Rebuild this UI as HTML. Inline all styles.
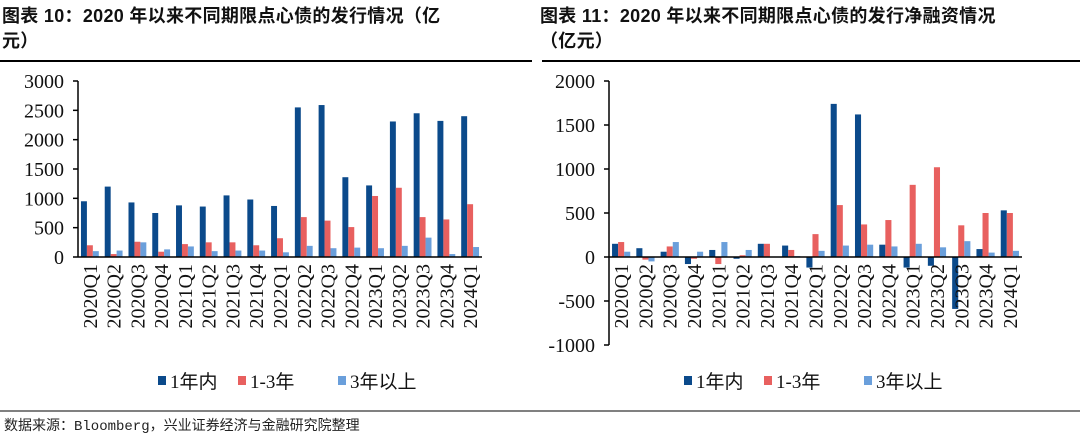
<!DOCTYPE html>
<html><head><meta charset="utf-8">
<style>
body{margin:0;width:1080px;height:435px;background:#fff;overflow:hidden;font-family:"Liberation Serif","Noto Serif CJK SC",serif;}
.t{position:absolute;font-family:"Liberation Sans","Noto Sans CJK SC",sans-serif;font-weight:bold;font-size:18px;line-height:25px;color:#111;letter-spacing:0.3px}
</style></head><body>
<div class="t" style="left:2px;top:4px;width:534px">图表 10：2020 年以来不同期限点心债的发行情况（亿<br>元）</div>
<div class="t" style="left:540px;top:4px;width:540px">图表 11：2020 年以来不同期限点心债的发行净融资情况<br>（亿元）</div>
<svg id="s" width="1080" height="435" style="position:absolute;left:0;top:0">
<line x1="0" y1="61" x2="532" y2="61" stroke="#000" stroke-width="2"/>
<line x1="542" y1="61" x2="1080" y2="61" stroke="#000" stroke-width="2"/>
<line x1="0" y1="411" x2="1080" y2="411" stroke="#000" stroke-width="1"/>
<text x="4" y="430" font-size="14" font-family="Liberation Mono,Noto Sans CJK SC,monospace" fill="#222">数据来源：Bloomberg，兴业证券经济与金融研究院整理</text>
</svg>
<script>
const categories=["2020Q1","2020Q2","2020Q3","2020Q4","2021Q1","2021Q2","2021Q3","2021Q4","2022Q1","2022Q2","2022Q3","2022Q4","2023Q1","2023Q2","2023Q3","2023Q4","2024Q1"];
const seriesNames=["1年内","1-3年","3年以上"];
const issueShort=[950,1200,930,750,880,860,1050,980,870,2550,2590,1360,1220,2310,2450,2320,2400];
const issueMid=[200,50,260,90,220,250,250,200,320,680,620,510,1040,1180,680,640,900];
const issueLong=[100,110,250,130,180,100,110,110,80,190,150,160,150,190,330,50,170];
const netShort=[150,100,60,-80,80,-20,150,130,-120,1740,1620,140,-120,-100,-590,90,530];
const netMid=[170,-30,120,-20,-80,20,150,80,260,590,370,420,820,1020,360,500,500];
const netLong=[60,-50,170,60,170,80,0,10,70,130,140,120,150,110,180,50,70];
const leftTicks=[0,500,1000,1500,2000,2500,3000];
const rightTicks=[-1000,-500,0,500,1000,1500,2000];
const colors=["#0b4a8b","#e8605f","#6a9fdb"];
const svg=document.getElementById('s');
const NS="http://www.w3.org/2000/svg";
function mk(tag,attrs,parent){const e=document.createElementNS(NS,tag);for(const k in attrs)e.setAttribute(k,attrs[k]);(parent||svg).appendChild(e);return e;}
function chart(id,x0,x1,vmin,vmax,ytop,ybot,ticks,series,labelTop){
  const g=mk('g',{});
  
  
  const y=v=>ybot-(v-vmin)/(vmax-vmin)*(ybot-ytop);
  const bw=(x1-x0)/categories.length;
  ticks.forEach(t=>{
    const tx=mk('text',{x:x0-14,y:y(t)+7,'text-anchor':'end','font-size':20,fill:'#111'},g);
    tx.textContent=t;
    
    
    mk('line',{x1:x0-5,x2:x0,y1:y(t),y2:y(t),stroke:'#000','stroke-width':1.5},g);
  });
  mk('line',{x1:x0,x2:x0,y1:y(vmax),y2:y(vmin),stroke:'#000','stroke-width':1.5},g);
  series.forEach((s,si)=>{
    s.forEach((v,i)=>{
      const cx=x0+bw*i+bw/2;
      const w=bw*0.25;
      const bx=cx-1.5*w+si*w;
      const r=mk('rect',{x:bx,y:Math.min(y(v),y(0)),width:w,height:Math.abs(y(v)-y(0)),fill:colors[si]},g);
      
      
    });
  });
  mk('line',{x1:x0,x2:x1,y1:y(0),y2:y(0),stroke:'#000','stroke-width':1.5},g);
  categories.forEach((c,i)=>{
    const cx=x0+bw*i+bw/2+7;
    const tx=mk('text',{x:0,y:0,'text-anchor':'end','font-size':20,fill:'#111',transform:`translate(${cx},${labelTop}) rotate(-90)`},g);
    tx.textContent=c;
    
    
  });
  return g;
}
chart('issuance-chart',78,482,0,3000,81,257,leftTicks,[issueShort,issueMid,issueLong],264);
chart('net-financing-chart',609,1022,-1000,2000,81,345,rightTicks,[netShort,netMid,netLong],264);
function legend(x,yy){
  const offs=[0,80,180];
  seriesNames.forEach((n,i)=>{
    const r=mk('rect',{x:x+offs[i],y:yy-12,width:8,height:9,fill:colors[i]});
    
    
    const t=mk('text',{x:x+offs[i]+12,y:yy,'font-size':19,fill:'#111','font-family':'Liberation Serif,Noto Sans CJK SC,serif'});
    t.textContent=n;
    
    
  });
}
legend(158,388);
legend(684,388);
</script>
</body></html>
